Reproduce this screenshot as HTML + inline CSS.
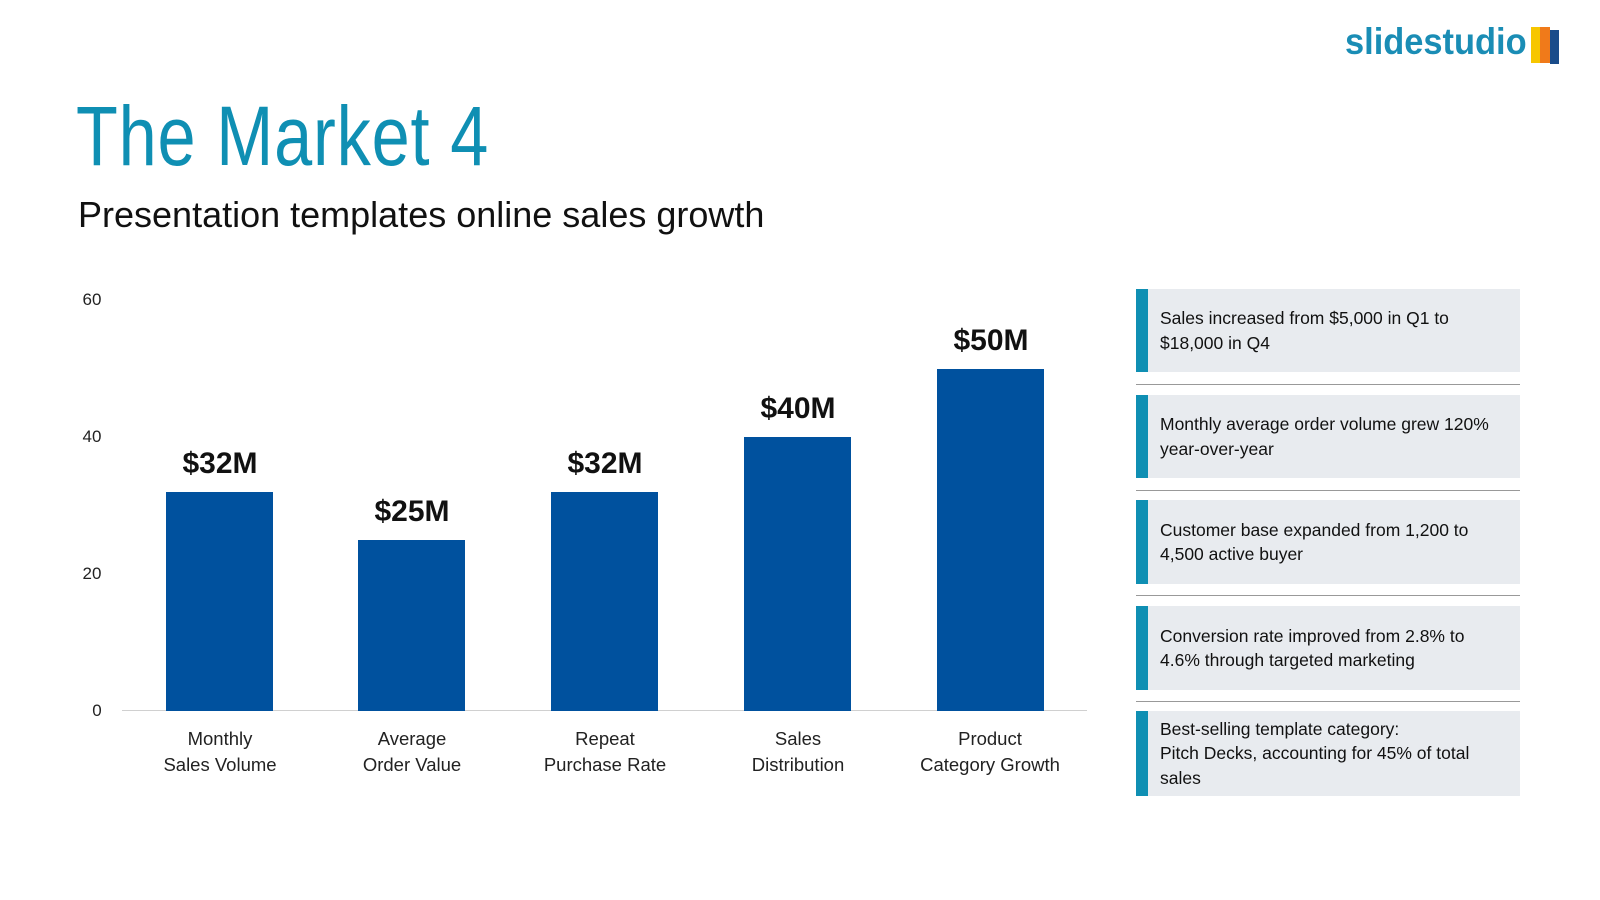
<!DOCTYPE html>
<html><head><meta charset="utf-8"><style>
body{margin:0;width:1600px;height:900px;background:#fff;position:relative;overflow:hidden;font-family:"Liberation Sans",sans-serif;}
.a{position:absolute;white-space:nowrap;}
.title{left:76px;top:88px;font-size:84px;color:#0f8fb3;transform:scaleX(0.815);transform-origin:left top;letter-spacing:1px;}
.sub{left:78px;top:194px;font-size:36px;color:#111;transform:scaleX(1.0);transform-origin:left top;}
.yl{font-size:17px;color:#222;width:40px;text-align:center;}
.bar{position:absolute;background:#00519e;width:107px;}
.val{font-size:30px;font-weight:bold;color:#111;width:180px;text-align:center;}
.cat{font-size:18.5px;color:#222;width:200px;text-align:center;line-height:26px;}
.box{position:absolute;left:1136px;width:384px;background:#e8ebef;border-left:12px solid #0f8fb3;box-sizing:border-box;padding-left:12px;font-size:17.5px;color:#111;line-height:24.5px;display:flex;align-items:center;}
.sep{position:absolute;left:1136px;width:384px;height:1px;background:#999;}
</style></head><body>
<div class="a" style="left:1345px;top:21px;font-size:37px;font-weight:bold;color:#1a8db5;transform:scaleX(0.93);transform-origin:left top;">slidestudio</div>
<div class="a" style="left:1531px;top:27px;width:9px;height:36px;background:#f7c600;"></div>
<div class="a" style="left:1540px;top:27px;width:10px;height:36px;background:#f07a1a;"></div>
<div class="a" style="left:1550px;top:30px;width:9px;height:34px;background:#1a4c8a;"></div>
<div class="a title">The Market 4</div>
<div class="a sub">Presentation templates online sales growth</div>

<div class="a yl" style="left:72px;top:290px;">60</div>
<div class="a yl" style="left:72px;top:427px;">40</div>
<div class="a yl" style="left:72px;top:564px;">20</div>
<div class="a yl" style="left:77px;top:701px;">0</div>
<div class="a" style="left:122px;top:710px;width:965px;height:1px;background:#d0d0d0;"></div>

<div class="bar" style="left:166px;top:492px;height:219px;"></div>
<div class="bar" style="left:358px;top:540px;height:171px;"></div>
<div class="bar" style="left:551px;top:492px;height:219px;"></div>
<div class="bar" style="left:744px;top:437px;height:274px;"></div>
<div class="bar" style="left:937px;top:369px;height:342px;"></div>

<div class="a val" style="left:130px;top:447px;">$32M</div>
<div class="a val" style="left:322px;top:495px;">$25M</div>
<div class="a val" style="left:515px;top:447px;">$32M</div>
<div class="a val" style="left:708px;top:392px;">$40M</div>
<div class="a val" style="left:901px;top:324px;">$50M</div>

<div class="a cat" style="left:120px;top:726px;">Monthly<br>Sales Volume</div>
<div class="a cat" style="left:312px;top:726px;">Average<br>Order Value</div>
<div class="a cat" style="left:505px;top:726px;">Repeat<br>Purchase Rate</div>
<div class="a cat" style="left:698px;top:726px;">Sales<br>Distribution</div>
<div class="a cat" style="left:890px;top:726px;">Product<br>Category Growth</div>

<div class="box" style="top:289px;height:83px;">Sales increased from $5,000 in Q1 to<br>$18,000 in Q4</div>
<div class="sep" style="top:384px;"></div>
<div class="box" style="top:395px;height:83px;">Monthly average order volume grew 120%<br>year-over-year</div>
<div class="sep" style="top:490px;"></div>
<div class="box" style="top:500px;height:84px;">Customer base expanded from 1,200 to<br>4,500 active buyer</div>
<div class="sep" style="top:595px;"></div>
<div class="box" style="top:606px;height:84px;">Conversion rate improved from 2.8% to<br>4.6% through targeted marketing</div>
<div class="sep" style="top:701px;"></div>
<div class="box" style="top:711px;height:85px;">Best-selling template category:<br>Pitch Decks, accounting for 45% of total<br>sales</div>
</body></html>
